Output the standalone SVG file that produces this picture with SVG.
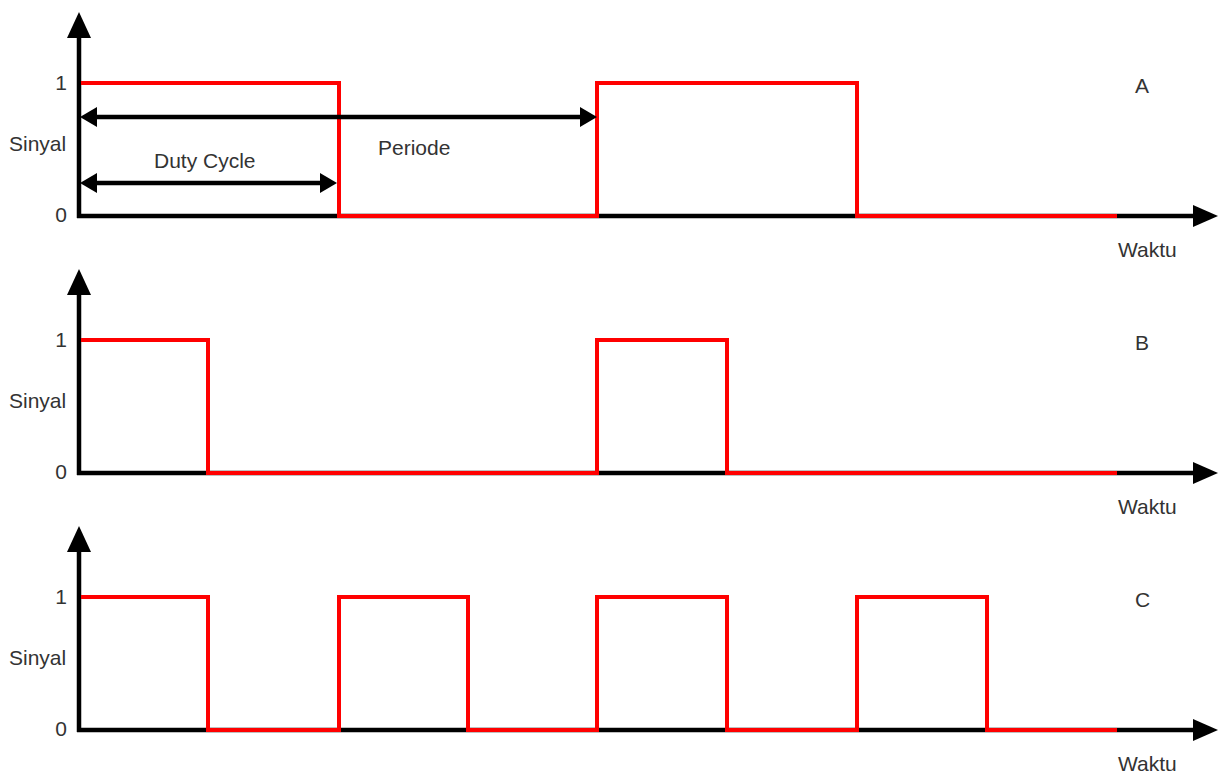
<svg xmlns="http://www.w3.org/2000/svg" width="1219" height="771" viewBox="0 0 1219 771">
<style>
.ax{stroke:#000;stroke-width:4.5;fill:none}
.ah{fill:#000;stroke:none}
.sig{stroke:#f00;stroke-width:4;fill:none;stroke-linejoin:miter;stroke-linecap:butt}
.t{font-family:"Liberation Sans",Arial,sans-serif;font-size:21px;fill:#333}
.e{text-anchor:end}
</style>
<defs>
<g id="axes">
<line class="ax" x1="79" y1="218" x2="79" y2="36"/>
<polygon class="ah" points="79,12 67,38 91,38"/>
<line class="ax" x1="77" y1="216" x2="1195" y2="216"/>
<polygon class="ah" points="1218,216 1193,205 1193,227"/>
<text class="t e" x="67" y="90">1</text>
<text class="t e" x="67" y="222">0</text>
<text class="t" x="9" y="151">Sinyal</text>
<text class="t" x="1118" y="257">Waktu</text>
</g>
</defs>
<g id="panelA">
<use href="#axes"/>
<polyline class="sig" points="81,83 339,83 339,216 597,216 597,83 857,83 857,216 1117,216"/>
<text class="t" x="1135" y="93">A</text>
</g>
<g id="panelB" transform="translate(0,257)">
<use href="#axes"/>
<polyline class="sig" points="81,83 208,83 208,216 597,216 597,83 727,83 727,216 1117,216"/>
<text class="t" x="1135" y="93">B</text>
</g>
<g id="panelC" transform="translate(0,514)">
<use href="#axes"/>
<polyline class="sig" points="81,83 208,83 208,216 339,216 339,83 468,83 468,216 597,216 597,83 727,83 727,216 857,216 857,83 987,83 987,216 1117,216"/>
<text class="t" x="1135" y="93">C</text>
</g>
<g id="connectors">
<line class="ax" x1="96" y1="117" x2="581" y2="117"/>
<polygon class="ah" points="80,117 97,107 97,127"/>
<polygon class="ah" points="597,117 580,107 580,127"/>
<line class="ax" x1="96" y1="183" x2="321" y2="183"/>
<polygon class="ah" points="80,183 97,173 97,193"/>
<polygon class="ah" points="337,183 320,173 320,193"/>
</g>
<g id="labels">
<text class="t" x="378" y="155">Periode</text>
<text class="t" x="154" y="168">Duty Cycle</text>
</g>
</svg>
